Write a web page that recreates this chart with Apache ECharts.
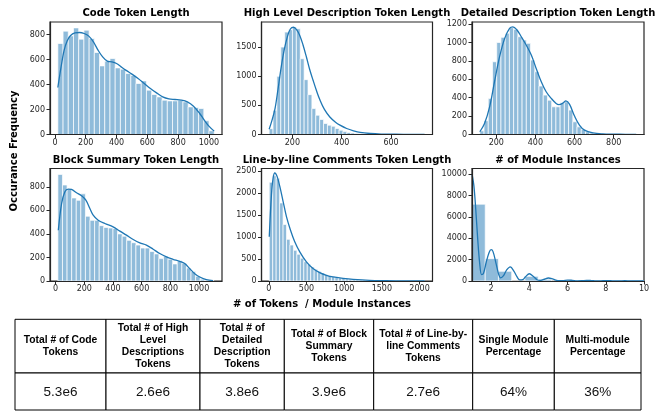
<!DOCTYPE html>
<html><head><meta charset="utf-8">
<script src="https://cdn.jsdelivr.net/npm/echarts@6/dist/echarts.min.js"></script>
<style>html,body{margin:0;padding:0;background:#fff}#c{width:656px;height:411px}</style>
</head><body><div id="c"></div>
<script>
// ---------- DATA ----------
const titles = ['Code Token Length','High Level Description Token Length','Detailed Description Token Length',
  'Block Summary Token Length','Line-by-line Comments Token Length','# of Module Instances'];

// Code token length histogram
const codeBinStart = 19, codeBinWidth = 33.85;
const codeCounts = [728,827,789,853,763,835,768,656,549,587,608,533,523,488,472,408,429,355,320,301,275,269,269,275,261,221,216,208,110,30];
const codeKdeX = [19,40,60,80,100,130,160,190,220,250,280,310,340,370,400,430,460,500,540,580,620,660,700,740,780,820,860,900,940,970,1000,1034];
const codeKdeY = [376,541,675,750,790,813,816,808,787,741,675,621,587,581,568,541,515,483,448,408,368,333,301,285,280,275,261,226,168,115,67,27];

// High level description
const highBinStart = 106, highBinWidth = 15.75;
const highCounts = [100,416,998,1500,1757,1797,1842,1814,1300,941,684,445,331,257,188,160,142,103,74,50,35,25,18,12,9,7,6,5,4,4,3,3,2,2,2,1,1,1,1,1];
const highKdeX = [106,118,130,142,155,167,180,192,205,217,230,243,257,270,284,298,312,330,352,375,393,420,448,475,516,560,620,680,736];
const highKdeY = [90,250,450,780,1160,1450,1680,1810,1840,1800,1700,1540,1330,1120,930,750,590,430,300,210,160,103,63,35,17,8,4,2,1];

// Detailed description
const detBinStart = 116, detBinWidth = 21.6;
const detCounts = [40,150,390,790,1000,1055,1100,1160,1142,1062,1026,990,808,682,526,428,373,301,301,344,355,265,138,83,54,29,16,10,7,5,4,3,2,2,1,1,1];
const detKdeX = [116,140,166,191,217,243,268,285,306,328,353,379,404,430,455,481,506,520,540,556,574,600,625,651,694,745,800,860,915];
const detKdeY = [30,120,300,573,845,1044,1153,1170,1135,1062,972,863,718,573,464,392,337,325,340,365,330,200,102,47,18,7,4,2,1];

// Block summary
const blockBinStart = 16, blockBinWidth = 32;
const blockCounts = [905,815,780,705,685,740,550,515,515,470,455,450,445,400,380,345,325,305,280,280,250,230,190,210,185,145,175,150,110,80,40,15,5,2];
const blockKdeX = [19,42,65,88,111,146,181,211,239,262,297,343,401,448,494,541,587,633,680,726,773,819,865,900,935,970,1005,1051,1097];
const blockKdeY = [431,658,757,780,777,749,723,686,615,559,516,488,460,423,389,352,323,304,270,233,204,184,167,148,105,62,34,11,3];

// Line-by-line comments
const lineBinStart = 6, lineBinWidth = 45.84;
const lineCounts = [2250,2400,2340,1780,1290,950,820,700,610,520,440,380,320,270,220,180,150,120,100,85,70,58,48,40,32,26,21,17,14,11,9,7,6,5,4,3,3,2,2,2,1,1,1,1,1];
const lineKdeX = [6,35,57,79,110,146,190,234,287,344,411,499,587,675,764,852,985,1117,1338,1558,1800,2069];
const lineKdeY = [1009,1965,2347,2462,2385,2156,1812,1468,1162,894,665,436,283,191,130,92,61,38,15,8,3,1];

// Module instances
const modBinStart = 1, modBinWidth = 9/13;
const modCounts = [7190,2094,906,0,437,156,0,90,50,0,30,20,12];
const modKdeX = [1,1.1,1.2,1.3,1.4,1.5,1.6,1.75,1.9,2,2.1,2.25,2.4,2.5,2.65,2.8,3,3.2,3.35,3.5,3.65,3.8,4,4.2,4.4,4.55,4.75,5,5.25,5.5,5.75,6,6.25,6.5,6.75,7,7.25,7.5,7.75,8,8.25,8.5,8.75,9,9.25,9.5,9.75,10];
const modKdeY = [10030,8900,6600,3900,1700,600,700,1800,2700,2930,2750,1700,600,300,500,1000,1320,900,400,100,120,400,680,450,120,60,150,280,170,40,40,90,60,15,30,60,40,10,20,40,25,8,15,25,15,8,10,15];

// Tick labels
const codeXTicks = [0,200,400,600,800,1000], codeYTicks = [0,200,400,600,800];
const highXTicks = [200,400,600], highYTicks = [0,500,1000,1500];
const detXTicks = [200,400,600,800], detYTicks = [0,200,400,600,800,1000,1200];
const blockXTicks = [0,200,400,600,800,1000], blockYTicks = [0,200,400,600,800];
const lineXTicks = [0,500,1000,1500,2000], lineYTicks = [0,500,1000,1500,2000,2500];
const modXTicks = [2,4,6,8,10], modYTicks = [0,2000,4000,6000,8000,10000];

// Table
const tableHeaders = ['Total # of Code\nTokens','Total # of High\nLevel\nDescriptions\nTokens','Total # of\nDetailed\nDescription\nTokens',
  'Total # of Block\nSummary\nTokens','Total # of Line-by-\nline Comments\nTokens','Single Module\nPercentage','Multi-module\nPercentage'];
const tableValues = ['5.3e6','2.6e6','3.8e6','3.9e6','2.7e6','64%','36%'];

// ---------- LAYOUT ----------
const panels = [
  {start:codeBinStart,w:codeBinWidth,counts:codeCounts,kx:codeKdeX,ky:codeKdeY,xt:codeXTicks,yt:codeYTicks,xmin:-32,xmax:1085,ymax:900},
  {start:highBinStart,w:highBinWidth,counts:highCounts,kx:highKdeX,ky:highKdeY,xt:highXTicks,yt:highYTicks,xmin:75,xmax:768,ymax:1930},
  {start:detBinStart,w:detBinWidth,counts:detCounts,kx:detKdeX,ky:detKdeY,xt:detXTicks,yt:detYTicks,xmin:76,xmax:955,ymax:1222},
  {start:blockBinStart,w:blockBinWidth,counts:blockCounts,kx:blockKdeX,ky:blockKdeY,xt:blockXTicks,yt:blockYTicks,xmin:-39,xmax:1160,ymax:955},
  {start:lineBinStart,w:lineBinWidth,counts:lineCounts,kx:lineKdeX,ky:lineKdeY,xt:lineXTicks,yt:lineYTicks,xmin:-97,xmax:2172,ymax:2565},
  {start:modBinStart,w:modBinWidth,counts:modCounts,kx:modKdeX,ky:modKdeY,xt:modXTicks,yt:modYTicks,xmin:1,xmax:10,ymax:10530}
];
const gridBoxes = [
  {left:50,top:22,width:172,height:112.5},
  {left:261.5,top:22,width:171,height:112.5},
  {left:472,top:22,width:172,height:112.5},
  {left:50,top:168.5,width:172,height:112.5},
  {left:261.5,top:168.5,width:171,height:112.5},
  {left:472,top:168.5,width:172,height:112.5}
];

const AX = '#262626';
const tickFont = {fontSize:8, color:AX, fontFamily:'DejaVu Sans'};
const grid = [], xAxis = [], yAxis = [], series = [], graphic = [];

function renderBar(params, api){
  const x0 = api.value(0), x1 = api.value(1), h = api.value(2);
  const a = api.coord([x0, h]), b = api.coord([x1, 0]);
  return {type:'rect', shape:{x:a[0], y:a[1], width:b[0]-a[0], height:b[1]-a[1]},
    style:{fill:'#8fbbda', stroke:'#ffffff', lineWidth:0.7}};
}

panels.forEach((p, i) => {
  const g = gridBoxes[i];
  grid.push(Object.assign({show:true, borderColor:AX, borderWidth:1.2, backgroundColor:'transparent', containLabel:false}, g));
  xAxis.push({type:'value', gridIndex:i, min:p.xmin, max:p.xmax, z:10,
    axisLine:{show:true, onZero:false, lineStyle:{color:AX, width:1.2}},
    axisTick:{show:true, length:3.5, lineStyle:{color:AX, width:1}, customValues:p.xt},
    axisLabel:Object.assign({customValues:p.xt, margin:4, formatter:v=>String(v)}, tickFont),
    splitLine:{show:false}});
  yAxis.push({type:'value', gridIndex:i, min:0, max:p.ymax, z:10,
    axisLine:{show:true, onZero:false, lineStyle:{color:AX, width:1.2}},
    axisTick:{show:true, length:3.5, lineStyle:{color:AX, width:1}, customValues:p.yt},
    axisLabel:Object.assign({customValues:p.yt, margin:5, formatter:v=>String(v)}, tickFont),
    splitLine:{show:false}});
  const bins = p.counts.map((c, k) => [p.start + k*p.w, p.start + (k+1)*p.w, c]);
  series.push({type:'custom', xAxisIndex:i, yAxisIndex:i, renderItem:renderBar, data:bins,
    encode:{x:[0,1], y:2}, clip:true, silent:true, z:2});
  series.push({type:'line', xAxisIndex:i, yAxisIndex:i, data:p.kx.map((x,k)=>[x, p.ky[k]]),
    showSymbol:false, smooth:0.35, clip:true, silent:true, z:3,
    lineStyle:{color:'#1f77b4', width:1.3}});
  graphic.push({type:'text', x:g.left + g.width/2, y: i < 3 ? 13.5 : 160,
    style:{text:titles[i], font:'bold 10px "DejaVu Sans"', fill:'#000', textAlign:'center', textVerticalAlign:'middle'}});
});

graphic.push({type:'text', x:14, y:151, rotation:Math.PI/2,
  style:{text:'Occurance Frequency', font:'bold 10px "DejaVu Sans"', fill:'#000', textAlign:'center', textVerticalAlign:'middle'}});
graphic.push({type:'text', x:322, y:304,
  style:{text:'# of Tokens  / Module Instances', font:'bold 10px "DejaVu Sans"', fill:'#000', textAlign:'center', textVerticalAlign:'middle'}});

// table
const colEdges = [15,106,200,284.3,373.7,472.7,554.3,641];
const rowEdges = [319.3,373,410];
for (let c = 0; c < 7; c++) {
  const x0 = colEdges[c], x1 = colEdges[c+1], cx = (x0+x1)/2;
  graphic.push({type:'rect', shape:{x:x0, y:rowEdges[0], width:x1-x0, height:rowEdges[1]-rowEdges[0]},
    style:{fill:'#fff', stroke:'#000', lineWidth:1}, z:5});
  graphic.push({type:'rect', shape:{x:x0, y:rowEdges[1], width:x1-x0, height:rowEdges[2]-rowEdges[1]},
    style:{fill:'#fff', stroke:'#000', lineWidth:1}, z:5});
  graphic.push({type:'text', x:cx, y:(rowEdges[0]+rowEdges[1])/2, z:6,
    style:{text:tableHeaders[c], font:'bold 10.3px "Liberation Sans"', fill:'#000', textAlign:'center', textVerticalAlign:'middle', lineHeight:11.7}});
  graphic.push({type:'text', x:cx, y:392.7, z:6,
    style:{text:tableValues[c], font:'13.5px "Liberation Sans"', fill:'#111', textAlign:'center', textVerticalAlign:'middle'}});
}

const chart = echarts.init(document.getElementById('c'), null, {renderer:'canvas'});
chart.setOption({animation:false, backgroundColor:'#fff', grid, xAxis, yAxis, series, graphic});
</script></body></html>
